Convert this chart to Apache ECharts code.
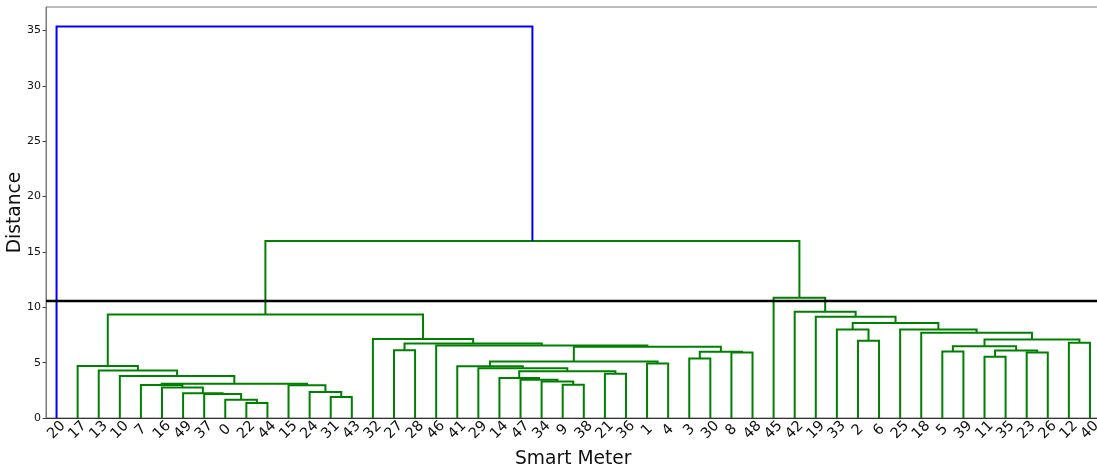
<!DOCTYPE html>
<html>
<head>
<meta charset="utf-8">
<script src="https://cdn.jsdelivr.net/npm/echarts@6/dist/echarts.min.js"></script>
<style>
html,body{margin:0;padding:0;background:#fff;}
#chart{width:1097px;height:472px;}
</style>
</head>
<body>
<div id="chart"></div>
<script>
// Leaf order along the x axis (tick labels)
const leafOrder = [20,17,13,10,7,16,49,37,0,22,44,15,24,31,43,32,27,28,46,41,29,14,47,34,9,38,21,36,1,4,3,30,8,48,45,42,19,33,2,6,25,18,5,39,11,35,23,26,12,40];

// Merges: [name, left child, right child, merge distance]
const leftLinks = [
  ['a1', 22, 44, 1.35],
  ['a2', 0, 'a1', 1.65],
  ['a3', 37, 'a2', 2.17],
  ['a4', 49, 'a3', 2.23],
  ['a5', 16, 'a4', 2.75],
  ['a6', 7, 'a5', 2.98],
  ['a7', 31, 43, 1.9],
  ['a8', 24, 'a7', 2.35],
  ['a9', 15, 'a8', 2.95],
  ['a10', 'a6', 'a9', 3.1],
  ['a11', 10, 'a10', 3.79],
  ['a12', 13, 'a11', 4.3],
  ['a13', 17, 'a12', 4.69]
];
const middleLinks = [
  ['b1', 9, 38, 3.0],
  ['b2', 34, 'b1', 3.3],
  ['b3', 47, 'b2', 3.45],
  ['b4', 14, 'b3', 3.62],
  ['b5', 21, 36, 4.0],
  ['b6', 'b4', 'b5', 4.22],
  ['b7', 29, 'b6', 4.5],
  ['b8', 41, 'b7', 4.67],
  ['b9', 1, 4, 4.93],
  ['b10', 'b8', 'b9', 5.1],
  ['b11', 3, 30, 5.38],
  ['b12', 8, 48, 5.92],
  ['b13', 'b11', 'b12', 5.98],
  ['b14', 'b10', 'b13', 6.43],
  ['b15', 46, 'b14', 6.56],
  ['b16', 27, 28, 6.13],
  ['b17', 'b16', 'b15', 6.74],
  ['b18', 32, 'b17', 7.13],
  ['c1', 'a13', 'b18', 9.35]
];
const rightLinks = [
  ['d1', 2, 6, 6.98],
  ['d2', 33, 'd1', 8.0],
  ['d3', 5, 39, 6.0],
  ['d4', 11, 35, 5.53],
  ['d5', 23, 26, 5.92],
  ['d6', 'd4', 'd5', 6.1],
  ['d7', 'd3', 'd6', 6.48],
  ['d8', 12, 40, 6.8],
  ['d9', 'd7', 'd8', 7.1],
  ['d10', 18, 'd9', 7.7],
  ['d11', 25, 'd10', 8.0],
  ['d12', 'd2', 'd11', 8.58],
  ['d13', 19, 'd12', 9.14],
  ['d14', 42, 'd13', 9.59],
  ['d15', 45, 'd14', 10.87]
];
const topLinks = [
  ['e1', 'c1', 'd15', 16.0],
  ['root', 20, 'e1', 35.36]
];
const yTicks = [0, 5, 10, 15, 20, 25, 30, 35];
const cutLine = 10.58;
const yMax = 37.13;

// scipy default colour threshold: 0.7 * max distance
const allLinks = leftLinks.concat(middleLinks, rightLinks, topLinks);
const colorThreshold = 0.7 * Math.max(...allLinks.map(l => l[3]));

// leaf positions follow scipy convention: 5, 15, 25, ...
const pos = {}, hgt = {};
leafOrder.forEach((leaf, i) => { pos[leaf] = i * 10 + 5; hgt[leaf] = 0; });
const segs = allLinks.map(([name, a, b, h]) => {
  const s = [pos[a], hgt[a], pos[b], hgt[b], h];
  pos[name] = (pos[a] + pos[b]) / 2;
  hgt[name] = h;
  return s;
});

const FONT = 'DejaVu Sans';
const chart = echarts.init(document.getElementById('chart'), null, {renderer: 'canvas'});
chart.setOption({
  animation: false,
  backgroundColor: '#fff',
  grid: {left: 46, top: 7, width: 1054.5, height: 411, containLabel: false, outerBoundsMode: 'none',
         show: true, borderColor: '#7a7a7a', borderWidth: 1, backgroundColor: 'transparent'},
  xAxis: [
    {type: 'value', min: 0, max: 500, show: false},
    {
      type: 'category', data: leafOrder.map(String), boundaryGap: true, position: 'bottom',
      axisLine: {show: true, lineStyle: {color: '#333', width: 1}},
      axisTick: {show: false},
      splitLine: {show: false},
      axisLabel: {rotate: 45, align: 'center', verticalAlign: 'middle', margin: 12, interval: 0, fontSize: 14.5, color: '#111', fontFamily: FONT},
      name: 'Smart Meter', nameLocation: 'middle', nameGap: 32, nameMoveOverlap: false,
      nameTextStyle: {fontSize: 18.7, color: '#111', fontFamily: FONT}
    }
  ],
  yAxis: {
    type: 'value', min: 0, max: yMax, interval: 5,
    axisLine: {show: true, lineStyle: {color: '#777', width: 1}},
    axisTick: {show: true, length: 3.5, lineStyle: {color: '#444'}, customValues: yTicks},
    axisLabel: {fontSize: 11, color: '#111', margin: 5, fontFamily: FONT, customValues: yTicks},
    splitLine: {show: false},
    name: 'Distance', nameLocation: 'middle', nameGap: 21, nameRotate: 90, nameMoveOverlap: false,
    nameTextStyle: {fontSize: 18.7, color: '#111', fontFamily: FONT}
  },
  series: [
    {
      type: 'custom', xAxisIndex: 0, yAxisIndex: 0, data: segs, clip: false,
      renderItem: function (params, api) {
        const xl = api.value(0), hl = api.value(1), xr = api.value(2), hr = api.value(3), h = api.value(4);
        return {
          type: 'polyline',
          shape: {points: [api.coord([xl, hl]), api.coord([xl, h]), api.coord([xr, h]), api.coord([xr, hr])]},
          style: {stroke: h > colorThreshold ? '#0000ff' : '#008000', lineWidth: 2, fill: 'none'}
        };
      }
    },
    {
      type: 'line', xAxisIndex: 0, yAxisIndex: 0, symbol: 'none', z: 5,
      data: [[0, cutLine], [500, cutLine]],
      lineStyle: {color: '#000', width: 2.5}
    }
  ]
});
</script>
</body>
</html>
